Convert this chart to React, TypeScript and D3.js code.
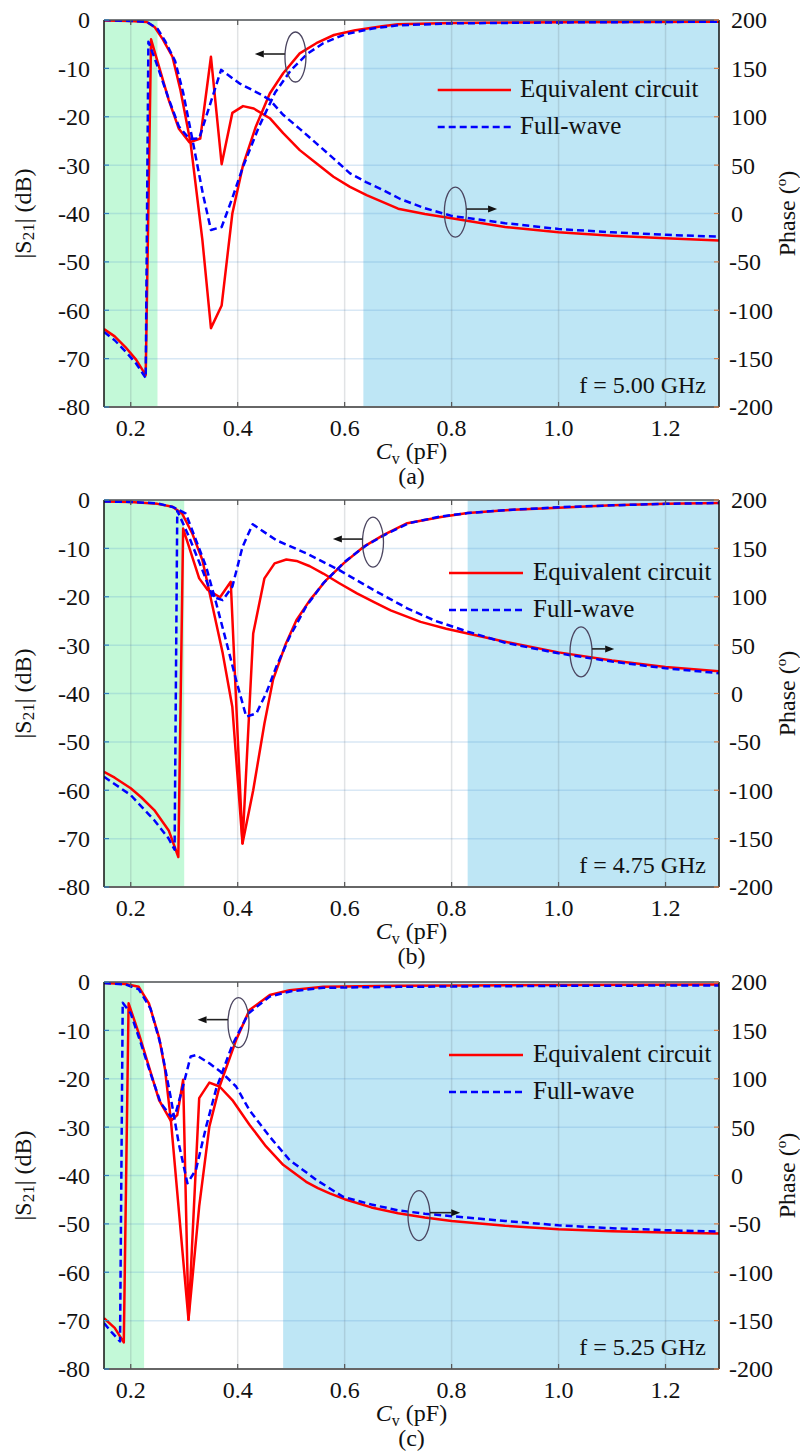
import React from 'react';
import * as d3 from 'd3';

// ---------- axes / labels ----------
const cvTicks = [0.2, 0.4, 0.6, 0.8, 1.0, 1.2];
const dbTicks = [0, -10, -20, -30, -40, -50, -60, -70, -80];
const phaseTicks = [200, 150, 100, 50, 0, -50, -100, -150, -200];
const panelTags = ['(a)', '(b)', '(c)'];
const freqTags = ['f = 5.00 GHz', 'f = 4.75 GHz', 'f = 5.25 GHz'];
const seriesNames = ['Equivalent circuit', 'Full-wave'];
const lowBands = [[0.15, 0.25], [0.15, 0.30], [0.15, 0.225]];
const highBands = [[0.635, 1.3], [0.83, 1.3], [0.485, 1.3]];

// ---------- panel (a) f = 5.00 GHz ----------
const magEcA: [number, number][] = [[0.15, -0.1], [0.2, -0.2], [0.23, -0.4], [0.245, -1.5], [0.26, -4], [0.278, -7.6], [0.293, -14.5], [0.312, -25.5], [0.334, -45.5], [0.35, -63.7], [0.37, -59], [0.39, -40], [0.41, -30], [0.434, -22], [0.46, -15.2], [0.485, -11], [0.516, -6.9], [0.547, -4.8], [0.58, -3.1], [0.62, -2.1], [0.67, -1.3], [0.7, -0.9], [0.8, -0.6], [1.0, -0.45], [1.3, -0.35]];
const magFwA: [number, number][] = [[0.15, 0], [0.2, -0.2], [0.23, -0.4], [0.25, -1.8], [0.265, -4.5], [0.283, -8.5], [0.298, -15], [0.315, -24.5], [0.335, -36], [0.35, -43.4], [0.37, -42.8], [0.39, -36.8], [0.41, -30.3], [0.44, -22], [0.47, -15], [0.5, -10.3], [0.53, -7], [0.56, -4.8], [0.6, -3], [0.65, -1.8], [0.7, -1.1], [0.8, -0.7], [1.0, -0.5], [1.3, -0.35]];
const phEcA: [number, number][] = [[0.15, -119.5], [0.17, -127], [0.19, -138], [0.21, -151], [0.228, -167], [0.238, 180], [0.253, 151.5], [0.271, 117.5], [0.29, 87.5], [0.31, 73.5], [0.33, 77.5], [0.35, 162], [0.37, 51], [0.39, 104], [0.41, 111], [0.43, 108.5], [0.46, 98.5], [0.485, 83], [0.516, 65.5], [0.547, 52], [0.579, 38], [0.61, 27.5], [0.641, 19], [0.7, 5], [0.75, -0.5], [0.8, -5], [0.9, -14], [1.0, -19.5], [1.1, -23], [1.2, -25.5], [1.3, -28]];
const phFwA: [number, number][] = [[0.15, -122.5], [0.17, -131], [0.19, -142.5], [0.21, -155], [0.228, -170], [0.233, 177.5], [0.246, 158.5], [0.27, 120], [0.29, 90], [0.31, 77], [0.328, 77.5], [0.347, 110.5], [0.369, 148.5], [0.403, 134.5], [0.44, 124], [0.46, 117.5], [0.485, 102], [0.516, 87.5], [0.547, 72.5], [0.58, 56.5], [0.61, 41.5], [0.64, 32.5], [0.673, 24], [0.704, 15], [0.75, 5.5], [0.8, -2.5], [0.9, -10], [1.0, -16], [1.1, -19.5], [1.2, -22], [1.3, -24]];

// ---------- panel (b) f = 4.75 GHz ----------
const magEcB: [number, number][] = [[0.15, -0.3], [0.2, -0.4], [0.25, -0.8], [0.278, -1.4], [0.296, -2.8], [0.315, -6.9], [0.334, -12.4], [0.353, -22], [0.372, -31.7], [0.39, -42.8], [0.409, -71], [0.429, -60], [0.45, -46.2], [0.466, -37.2], [0.49, -29.7], [0.51, -24.8], [0.535, -20.7], [0.566, -16.5], [0.598, -13.1], [0.635, -9.7], [0.673, -7.2], [0.717, -4.8], [0.78, -3.5], [0.83, -2.7], [0.9, -2.1], [1.0, -1.6], [1.1, -1.1], [1.2, -0.8], [1.3, -0.6]];
const magFwB: [number, number][] = [[0.15, -0.3], [0.2, -0.4], [0.25, -0.7], [0.28, -1.5], [0.303, -2.8], [0.322, -8.3], [0.341, -13.8], [0.36, -21.4], [0.378, -29], [0.397, -37.2], [0.416, -44.8], [0.435, -44.1], [0.453, -40], [0.472, -34.5], [0.497, -28.3], [0.528, -22], [0.56, -17.2], [0.6, -12.8], [0.64, -9.4], [0.68, -6.9], [0.72, -4.8], [0.78, -3.4], [0.83, -2.7], [0.9, -2.1], [1.0, -1.5], [1.1, -1.1], [1.2, -0.8], [1.3, -0.6]];
const phEcB: [number, number][] = [[0.15, -81], [0.17, -87], [0.2, -98], [0.22, -107.5], [0.244, -120.5], [0.271, -141.5], [0.289, -169], [0.298, 170.5], [0.309, 151.5], [0.328, 119], [0.344, 107], [0.367, 99.5], [0.387, 115.5], [0.409, -155], [0.429, 62], [0.45, 119], [0.469, 134.5], [0.491, 138.5], [0.51, 137], [0.535, 131.5], [0.56, 124], [0.59, 114], [0.623, 103.5], [0.655, 94.5], [0.686, 86], [0.742, 74], [0.79, 67], [0.83, 62], [0.9, 53.5], [1.0, 42.5], [1.1, 34], [1.2, 27.5], [1.3, 23]];
const phFwB: [number, number][] = [[0.15, -86], [0.2, -105], [0.244, -131], [0.271, -150], [0.282, -161.5], [0.287, 189], [0.309, 162], [0.334, 127.5], [0.353, 100], [0.372, 96.5], [0.39, 110.5], [0.409, 151.5], [0.428, 175], [0.472, 158.5], [0.528, 145], [0.59, 127.5], [0.654, 107], [0.717, 88], [0.77, 75], [0.83, 64], [0.9, 52.5], [1.0, 41.5], [1.1, 33], [1.2, 26], [1.3, 21]];

// ---------- panel (c) f = 5.25 GHz ----------
const magEcC: [number, number][] = [[0.15, -0.2], [0.19, -0.4], [0.215, -1], [0.234, -4.4], [0.253, -11.5], [0.264, -18], [0.275, -28.5], [0.308, -69.8], [0.328, -46.4], [0.347, -29.9], [0.366, -21.6], [0.397, -12], [0.422, -5.8], [0.46, -2.7], [0.497, -1.7], [0.56, -1.0], [0.7, -0.8], [1.0, -0.6], [1.3, -0.5]];
const magFwC: [number, number][] = [[0.15, -0.2], [0.19, -0.5], [0.215, -1.5], [0.237, -5.5], [0.256, -13], [0.275, -24], [0.29, -33.5], [0.306, -41.6], [0.322, -38.8], [0.341, -29.9], [0.36, -22], [0.39, -13], [0.42, -6.5], [0.46, -3], [0.5, -1.9], [0.56, -1.2], [0.7, -1.0], [1.0, -0.8], [1.3, -0.7]];
const phEcC: [number, number][] = [[0.15, -147.5], [0.17, -157.5], [0.187, -172.5], [0.196, 178], [0.215, 147], [0.234, 112.5], [0.253, 78], [0.275, 56.5], [0.287, 62.5], [0.298, 99], [0.308, -149], [0.328, 80], [0.347, 96], [0.366, 92], [0.39, 78], [0.422, 52.5], [0.453, 30], [0.485, 11], [0.528, -6.5], [0.55, -13], [0.572, -18.5], [0.6, -24.5], [0.65, -33], [0.7, -39], [0.75, -43.5], [0.8, -47], [0.9, -52], [1.0, -55.5], [1.1, -57.5], [1.2, -59], [1.3, -60]];
const phFwC: [number, number][] = [[0.15, -152.5], [0.165, -162.5], [0.18, -171.5], [0.185, 178.5], [0.2, 167.5], [0.219, 136.5], [0.237, 105.5], [0.256, 75], [0.275, 61], [0.284, 64.5], [0.296, 88.5], [0.312, 123], [0.322, 124.5], [0.347, 116], [0.372, 105.5], [0.397, 92], [0.422, 67.5], [0.46, 40], [0.497, 16], [0.547, -4.5], [0.597, -22], [0.65, -30], [0.7, -36], [0.75, -39.5], [0.8, -42], [0.9, -47], [1.0, -51.5], [1.1, -54.5], [1.2, -56.5], [1.3, -58]];

// annotation anchors in data units: [cv, dB] for ellipse centre, and arrow tip cv
const leftMarks = [[0.508, -7.65, 0.432], [0.653, -8.7, 0.578], [0.4015, -8.4, 0.325]];
const rightMarks = [[0.807, -39.7, 0.885], [1.042, -31.4, 1.104], [0.739, -48.3, 0.816]];

const panelsData = [
  { magEc: magEcA, magFw: magFwA, phEc: phEcA, phFw: phFwA },
  { magEc: magEcB, magFw: magFwB, phEc: phEcB, phFw: phFwB },
  { magEc: magEcC, magFw: magFwC, phEc: phEcC, phFw: phFwC },
];

const FONT = '"Liberation Serif", "Times New Roman", serif';
const L = 104, R = 719, PH = 387;
const tops = [20, 500, 982];

function Panel({ i }: { i: number }) {
  const top = tops[i];
  const bottom = top + PH;
  const x = d3.scaleLinear().domain([0.15, 1.3]).range([L, R]);
  const yL = d3.scaleLinear().domain([-80, 0]).range([bottom, top]);
  const yR = d3.scaleLinear().domain([-200, 200]).range([bottom, top]);
  const lineL = d3.line<[number, number]>().x(d => x(d[0])).y(d => yL(d[1]));
  const lineR = d3.line<[number, number]>().x(d => x(d[0])).y(d => yR(d[1]));
  const D = panelsData[i];
  const clipId = `clip${i}`;
  const lg = i === 0 ? { x1: 437.7, x2: 511, tx: 520, y1: top + 70 } : { x1: 449, x2: 523, tx: 533, y1: top + 73 };
  const lm = leftMarks[i];
  const rm = rightMarks[i];
  const midY = top + PH / 2;

  const arrow = (x1: number, x2: number, yy: number) => {
    const dir = Math.sign(x2 - x1);
    const ah = 9;
    return (
      <g>
        <line x1={x1} y1={yy} x2={x2 - dir * ah} y2={yy} stroke="#222" strokeWidth={1.6} />
        <path d={`M${x2},${yy} L${x2 - dir * ah},${yy - 3.5} L${x2 - dir * ah},${yy + 3.5} Z`} fill="#111" />
      </g>
    );
  };

  return (
    <g>
      <defs>
        <clipPath id={clipId}>
          <rect x={L} y={top} width={R - L} height={PH} />
        </clipPath>
      </defs>
      {/* shaded bands */}
      <rect x={x(lowBands[i][0])} y={top} width={x(lowBands[i][1]) - x(lowBands[i][0])} height={PH} fill="#c3f9d8" />
      <rect x={x(highBands[i][0])} y={top} width={x(highBands[i][1]) - x(highBands[i][0])} height={PH} fill="#bee6f5" />
      {/* grid */}
      {dbTicks.map(t => (
        <line key={'h' + t} x1={L} x2={R} y1={yL(t)} y2={yL(t)} stroke="rgba(80,150,210,0.22)" strokeWidth={1.5} />
      ))}
      {cvTicks.map(t => (
        <line key={'v' + t} x1={x(t)} x2={x(t)} y1={top} y2={bottom} stroke="rgba(90,100,110,0.18)" strokeWidth={1.5} />
      ))}
      {/* curves */}
      <g clipPath={`url(#${clipId})`} fill="none" strokeLinejoin="round">
        <path d={lineL(D.magEc) || ''} stroke="#ff0000" strokeWidth={2.5} />
        <path d={lineR(D.phEc) || ''} stroke="#ff0000" strokeWidth={2.5} />
        <path d={lineL(D.magFw) || ''} stroke="#0000ff" strokeWidth={2.5} strokeDasharray="7,4" />
        <path d={lineR(D.phFw) || ''} stroke="#0000ff" strokeWidth={2.5} strokeDasharray="7,4" />
      </g>
      {/* axes frame */}
      <line x1={L} x2={R} y1={top} y2={top} stroke="#555" strokeWidth={1.5} />
      <line x1={L} x2={R} y1={bottom} y2={bottom} stroke="#666" strokeWidth={1.8} />
      <line x1={L} x2={L} y1={top} y2={bottom} stroke="#111" strokeWidth={1.5} />
      <line x1={R} x2={R} y1={top} y2={bottom} stroke="#111" strokeWidth={1.5} />
      {/* ticks */}
      {cvTicks.map(t => (
        <g key={'xt' + t}>
          <line x1={x(t)} x2={x(t)} y1={bottom} y2={bottom - 5} stroke="#555" strokeWidth={1.2} />
          <line x1={x(t)} x2={x(t)} y1={top} y2={top + 5} stroke="#555" strokeWidth={1.2} />
          <text x={x(t)} y={bottom + 29} textAnchor="middle" fontSize={24} fontFamily={FONT} fill="#111">{t.toFixed(1)}</text>
        </g>
      ))}
      {dbTicks.map(t => (
        <g key={'yl' + t}>
          <line x1={L} x2={L + 5} y1={yL(t)} y2={yL(t)} stroke="#2f7fc0" strokeWidth={1.2} />
          <text x={90} y={yL(t)} dy="0.35em" textAnchor="end" fontSize={24} fontFamily={FONT} fill="#111">{t}</text>
        </g>
      ))}
      {phaseTicks.map(t => (
        <g key={'yr' + t}>
          <line x1={R} x2={R - 5} y1={yR(t)} y2={yR(t)} stroke="#d9804a" strokeWidth={1.2} />
          <text x={t < 0 ? 729 : 731} y={yR(t)} dy="0.35em" textAnchor="start" fontSize={24} fontFamily={FONT} fill="#111">{t}</text>
        </g>
      ))}
      {/* axis titles */}
      <text transform={`translate(31,${midY}) rotate(-90)`} textAnchor="middle" fontSize={24} fontFamily={FONT} fill="#111">
        |S<tspan fontSize={17} dy={3}>21</tspan><tspan dy={-3}>| (dB)</tspan>
      </text>
      <text transform={`translate(795,${midY}) rotate(-90)`} textAnchor="middle" fontSize={24} fontFamily={FONT} fill="#111">
        Phase (<tspan fontSize={15} dy={-9}>o</tspan><tspan dy={9}>)</tspan>
      </text>
      <text x={(L + R) / 2} y={bottom + 52} textAnchor="middle" fontSize={24} fontFamily={FONT} fill="#111">
        <tspan fontStyle="italic">C</tspan><tspan fontSize={16} dy={5}>v</tspan><tspan dy={-5}> (pF)</tspan>
      </text>
      <text x={(L + R) / 2} y={bottom + 77} textAnchor="middle" fontSize={24} fontFamily={FONT} fill="#111">{panelTags[i]}</text>
      <text x={706} y={bottom - 14} textAnchor="end" fontSize={24} fontFamily={FONT} fill="#111">{freqTags[i]}</text>
      {/* legend */}
      <line x1={lg.x1} x2={lg.x2} y1={lg.y1} y2={lg.y1} stroke="#ff0000" strokeWidth={2.5} />
      <text x={lg.tx} y={lg.y1 + 7} fontSize={25} fontFamily={FONT} fill="#111">{seriesNames[0]}</text>
      <line x1={lg.x1} x2={lg.x2} y1={lg.y1 + 37} y2={lg.y1 + 37} stroke="#0000ff" strokeWidth={2.5} strokeDasharray="7,4" />
      <text x={lg.tx} y={lg.y1 + 44} fontSize={25} fontFamily={FONT} fill="#111">{seriesNames[1]}</text>
      {/* annotations */}
      <ellipse cx={x(lm[0])} cy={yL(lm[1])} rx={10.5} ry={25} fill="none" stroke="#4b4560" strokeWidth={1.3} />
      {arrow(x(lm[0]) - 10.5, x(lm[2]), yL(lm[1]) - 3)}
      <ellipse cx={x(rm[0])} cy={yL(rm[1])} rx={11} ry={25} fill="none" stroke="#4b4560" strokeWidth={1.3} />
      {arrow(x(rm[0]) + 11, x(rm[2]), yL(rm[1]) - 3)}
    </g>
  );
}

export default function App() {
  return (
    <svg width={800} height={1455} viewBox="0 0 800 1455" style={{ position: 'absolute', left: 0, top: 0, background: '#fff' }}>
      <rect x={0} y={0} width={800} height={1455} fill="#fff" />
      {[0, 1, 2].map(i => <Panel key={i} i={i} />)}
    </svg>
  );
}
